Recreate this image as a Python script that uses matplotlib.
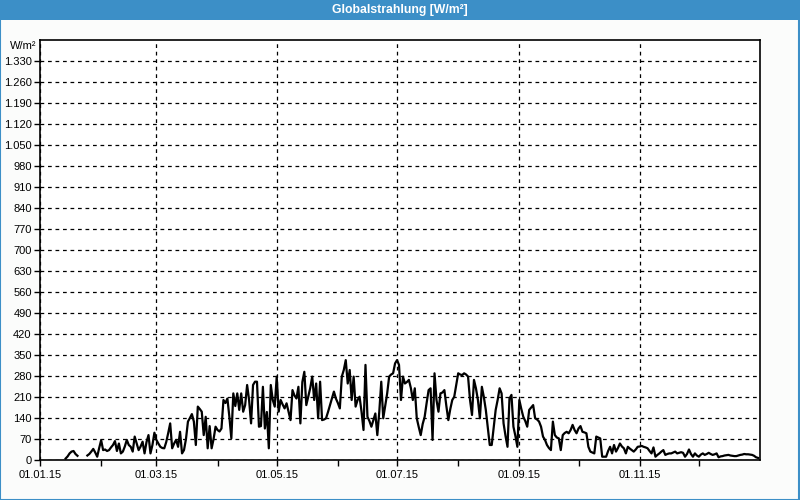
import numpy as np
import matplotlib
matplotlib.use("Agg")
import matplotlib.pyplot as plt
import matplotlib.dates as mdates
from matplotlib.patches import Rectangle
from matplotlib.ticker import FuncFormatter, FixedLocator

nan = np.nan
plt.rcParams["font.family"] = ["Liberation Sans", "DejaVu Sans"]

# Tageswerte Globalstrahlung 2015 (W/m²), 01.01. bis 31.12.
werte = [
    nan, nan, nan, nan, nan, nan, nan, nan, nan, nan,
    nan, nan, nan, 5, 12, 22, 28, 30, 20, 14,
    nan, nan, nan, nan, 15, 20, 28, 37, 25, 11,
    40, 66, 33, 35, 30, 33, 42, 50, 63, 30,
    55, 22, 28, 45, 67, 50, 44, 28, 78, 55,
    33, 45, 61, 22, 60, 83, 22, 50, 91, 67,
    55, 44, 40, 39, 60, 90, 122, 39, 55, 67,
    44, 94, 22, 33, 70, 128, 140, 153, 128, 50,
    178, 170, 161, 83, 144, 39, 113, 39, 70, 111,
    100, 95, 105, 200, 190, 205, 144, 72, 222, 180,
    222, 167, 222, 161, 183, 250, 200, 122, 250, 261,
    261, 111, 113, 244, 105, 160, 39, 250, 200, 178,
    278, 161, 200, 185, 172, 189, 161, 133, 233, 215,
    205, 244, 122, 260, 294, 183, 211, 240, 278, 200,
    255, 139, 261, 133, 135, 139, 160, 183, 205, 228,
    205, 190, 172, 278, 300, 333, 255, 300, 200, 278,
    178, 200, 211, 161, 100, 317, 144, 130, 111, 133,
    155, 83, 161, 261, 139, 180, 222, 278, 285, 289,
    322, 333, 317, 200, 278, 255, 260, 267, 240, 200,
    239, 139, 110, 83, 120, 144, 190, 233, 239, 67,
    289, 200, 161, 222, 225, 233, 180, 133, 170, 200,
    211, 250, 289, 285, 283, 289, 285, 278, 200, 150,
    267, 239, 200, 139, 244, 210, 167, 110, 50, 50,
    110, 167, 200, 239, 222, 122, 80, 44, 205, 217,
    111, 80, 44, 200, 170, 144, 130, 111, 167, 175,
    183, 139, 135, 128, 111, 78, 67, 50, 40, 33,
    128, 83, 75, 72, 33, 83, 90, 94, 89, 100,
    117, 100, 89, 105, 113, 94, 92, 89, 44, 28,
    25, 22, 78, 75, 72, 11, 11, 11, 30, 44,
    22, 50, 28, 40, 55, 45, 39, 22, 44, 38,
    33, 28, 35, 44, 45, 47, 44, 42, 39, 30,
    22, 42, 11, 17, 22, 28, 33, 17, 20, 22,
    22, 25, 28, 22, 24, 26, 24, 11, 20, 35,
    20, 11, 22, 15, 11, 18, 22, 17, 20, 24,
    20, 17, 19, 22, 9, 12, 13, 15, 16, 17,
    15, 14, 13, 13, 15, 17, 18, 20, 19, 19,
    18, 17, 14, 9, 7,
]
tage = np.arange("2015-01-01", "2016-01-01", dtype="datetime64[D]")
monate_beschriftet = np.array(["2015-01-01", "2015-03-01", "2015-05-01",
                               "2015-07-01", "2015-09-01", "2015-11-01"], dtype="datetime64[D]")
monate_zwischen = np.array(["2015-02-01", "2015-04-01", "2015-06-01",
                            "2015-08-01", "2015-10-01", "2015-12-01"], dtype="datetime64[D]")

titel = "Globalstrahlung [W/m²]"
einheit = "W/m²"
blau = "#3C8FC7"
hintergrund = "#FBFCFB"

fig = plt.figure(figsize=(8, 5), dpi=100, facecolor=hintergrund)

# ── Titelleiste und Rahmen ──
fig.patches.append(Rectangle((0, 0.96), 1, 0.04, transform=fig.transFigure,
                             facecolor=blau, edgecolor="none", zorder=0))
fig.patches.append(Rectangle((0.0006, 0.001), 0.9982, 0.998, transform=fig.transFigure,
                             facecolor="none", edgecolor=blau, linewidth=1.5, zorder=1))
fig.text(0.5, 0.979, titel, ha="center", va="center", color="white",
         fontsize=8.8, fontweight="bold")

# ── Diagramm ──
ax = fig.add_axes([0.05, 0.08, 0.90, 0.84], facecolor="white")
ax.plot(tage, werte, color="black", linewidth=1.6)

ax.set_xlim(np.datetime64("2015-01-01"), np.datetime64("2016-01-01"))
ax.set_ylim(0, 1400)

ax.xaxis.set_major_locator(FixedLocator(mdates.date2num(monate_beschriftet)))
ax.xaxis.set_minor_locator(FixedLocator(mdates.date2num(monate_zwischen)))
ax.xaxis.set_major_formatter(mdates.DateFormatter("%d.%m.%y"))
ax.set_yticks(np.arange(0, 1331, 70))
ax.yaxis.set_major_formatter(FuncFormatter(lambda v, p: f"{int(v):,}".replace(",", ".")))

ax.tick_params(axis="both", which="both", direction="out", length=4, width=1,
               labelsize=8, colors="black")
ax.tick_params(axis="x", pad=3)
ax.tick_params(axis="y", pad=2)
ax.grid(True, which="major", color="black", linestyle=(0, (3, 3)), linewidth=0.9)
for s in ax.spines.values():
    s.set_linewidth(1.2)
    s.set_color("black")

fig.text(0.046, 0.908, einheit, ha="right", va="center", fontsize=8)

plt.savefig("out.png", dpi=100, facecolor=hintergrund)
plt.close()
